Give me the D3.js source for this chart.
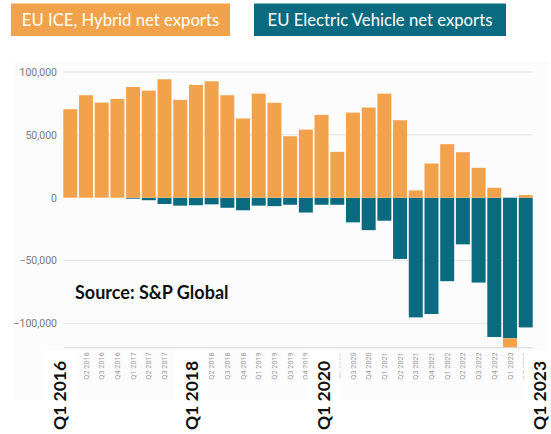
<!DOCTYPE html>
<html>
<head>
<meta charset="utf-8">
<script src="https://cdn.jsdelivr.net/npm/d3@7"></script>
<style>
  html, body { margin: 0; padding: 0; background: #ffffff; }
  svg { display: block; }
</style>
</head>
<body>
<svg id="chart" width="551" height="434"></svg>
<script>
// Quarterly EU net exports of cars, by powertrain
const quarters = [
  "Q1 2016", "Q2 2016", "Q3 2016", "Q4 2016",
  "Q1 2017", "Q2 2017", "Q3 2017", "Q4 2017",
  "Q1 2018", "Q2 2018", "Q3 2018", "Q4 2018",
  "Q1 2019", "Q2 2019", "Q3 2019", "Q4 2019",
  "Q1 2020", "Q2 2020", "Q3 2020", "Q4 2020",
  "Q1 2021", "Q2 2021", "Q3 2021", "Q4 2021",
  "Q1 2022", "Q2 2022", "Q3 2022", "Q4 2022",
  "Q1 2023", "Q2 2023"
];
const iceHybrid = [
  70400, 81500, 75700, 78600,
  88100, 85200, 94200, 77800,
  89700, 92600, 81500, 63000,
  82800, 75500, 48900, 54200,
  65900, 36500, 67700, 71700,
  82800, 61600, 5800, 27200,
  42600, 36200, 23800, 7900,
  -7500, 2100
];
const electric = [
  0, 0, 0, 0,
  -800, -2000, -5000, -6300,
  -6000, -5300, -8000, -10000,
  -6300, -6700, -5600, -11800,
  -5600, -5600, -19600, -25800,
  -18300, -48700, -95200, -92500,
  -66400, -37100, -67500, -110800,
  -111800, -103200
];
const yTicks = [100000, 50000, 0, -50000, -100000];
const seriesNames = ["EU ICE, Hybrid net exports", "EU Electric Vehicle net exports"];
const yearMarks = ["Q1 2016", "Q1 2018", "Q1 2020", "Q1 2023"];
const yearAnchors = ["Q1 2016", "Q1 2018", "Q1 2020", "Q2 2023"];
const sourceNote = "Source: S&P Global";

const ORANGE = "#F2A24B";
const TEAL = "#0A6A80";

const svg = d3.select("#chart");

// stacked table: EV first so negative EV hugs the zero line
const rows = quarters.map((q, i) => ({ quarter: q, ev: electric[i], ice: iceHybrid[i] }));
const stack = d3.stack().keys(["ev", "ice"]).offset(d3.stackOffsetDiverging);
const layers = stack(rows);
const colorOf = { ev: TEAL, ice: ORANGE };

const x = d3.scaleBand().domain(quarters).range([63.3, 532.7]).paddingInner(0.11).paddingOuter(0);
const y = d3.scaleLinear().domain([-119000, 107000]).range([347.3, 63.2]);

// faint panel behind the plot
svg.append("rect").attr("x", 14).attr("y", 62).attr("width", 534).attr("height", 338).attr("fill", "#fcfcfc");

// horizontal grid
svg.append("g")
  .selectAll("line")
  .data(yTicks.filter(v => v !== 0))
  .join("line")
  .attr("x1", x.range()[0]).attr("x2", x.range()[1])
  .attr("y1", d => y(d)).attr("y2", d => y(d))
  .attr("stroke", "#e4e4e4").attr("stroke-width", 1);

// y axis labels
const yAxis = d3.axisLeft(y).tickValues(yTicks).tickSize(0).tickPadding(0).tickFormat(d3.format(","));
const gy = svg.append("g").attr("transform", "translate(57,0)").call(yAxis);
gy.select(".domain").remove();
gy.selectAll("text")
  .attr("fill", "#7a7a7a")
  .style("font-family", "Roboto, sans-serif")
  .style("font-size", "10.5px");

// bars
svg.append("g")
  .selectAll("g")
  .data(layers)
  .join("g")
  .attr("fill", d => colorOf[d.key])
  .selectAll("rect")
  .data(d => d)
  .join("rect")
  .attr("x", d => x(d.data.quarter))
  .attr("width", x.bandwidth())
  .attr("y", d => y(Math.max(d[0], d[1])))
  .attr("height", d => Math.abs(y(d[0]) - y(d[1])));

// baseline and quarter labels
const xAxis = d3.axisBottom(x).tickSize(0).tickPadding(0);
const gx = svg.append("g").attr("transform", `translate(0,${y(-119000)})`).call(xAxis);
gx.select(".domain").attr("stroke", "#d8d8d8");
gx.selectAll("text")
  .attr("transform", "rotate(-90)")
  .attr("x", -5).attr("y", 0).attr("dy", "0.35em")
  .attr("text-anchor", "end")
  .attr("fill", "#9a9a9a")
  .style("font-family", "Roboto, sans-serif")
  .style("font-size", "7.3px");

// year call-outs on white tabs
const yearOffsets = [-10, -4.5, 2, 14];
const yearG = svg.append("g")
  .selectAll("g")
  .data(yearMarks)
  .join("g")
  .attr("transform", (d, i) => `translate(${x(yearAnchors[i]) + x.bandwidth() / 2 + yearOffsets[i]},0)`);
yearG.append("rect")
  .attr("x", -16).attr("width", 32)
  .attr("y", 351).attr("height", 83)
  .attr("fill", "#ffffff");
yearG.append("text")
  .attr("transform", "translate(0,430) rotate(-90)")
  .attr("dy", "0.35em")
  .attr("text-anchor", "start")
  .attr("fill", "#111")
  .style("font-family", "Lato, sans-serif")
  .style("font-weight", "bold")
  .style("font-size", "17.5px")
  .text(d => d);

// source note
svg.append("text")
  .attr("x", 75).attr("y", 299)
  .attr("fill", "#111")
  .style("font-family", "Lato, sans-serif")
  .style("font-weight", "bold")
  .style("font-size", "18px")
  .text(sourceNote);

// legend tabs
const legendBoxes = [
  { x0: 11, x1: 230, color: ORANGE },
  { x0: 254, x1: 506, color: TEAL }
];
const lg = svg.append("g")
  .selectAll("g")
  .data(seriesNames)
  .join("g");
lg.append("rect")
  .attr("x", (d, i) => legendBoxes[i].x0)
  .attr("width", (d, i) => legendBoxes[i].x1 - legendBoxes[i].x0)
  .attr("y", 3.5).attr("height", 32.5)
  .attr("fill", (d, i) => legendBoxes[i].color);
lg.append("text")
  .attr("x", (d, i) => (legendBoxes[i].x0 + legendBoxes[i].x1) / 2)
  .attr("y", 26)
  .attr("text-anchor", "middle")
  .attr("fill", "#ffffff")
  .style("font-family", "Lato, sans-serif")
  .style("font-size", "16.7px")
  .text(d => d);
</script>
</body>
</html>
